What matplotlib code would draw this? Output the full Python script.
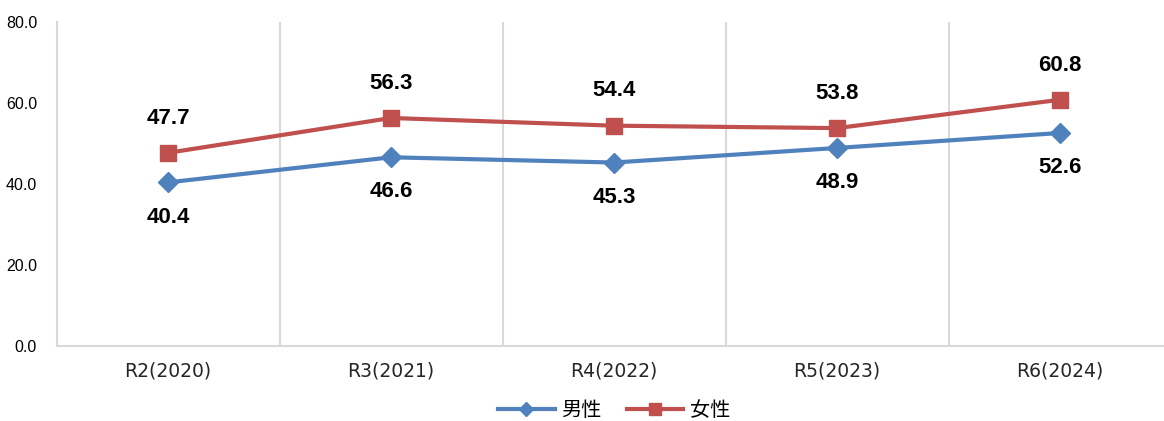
import matplotlib.pyplot as plt
import numpy as np

# Data
years = ['R2(2020)', 'R3(2021)', 'R4(2022)', 'R5(2023)', 'R6(2024)']
male = [40.4, 46.6, 45.3, 48.9, 52.6]
female = [47.7, 56.3, 54.4, 53.8, 60.8]
yticks = [0, 20, 40, 60, 80]

color_male = '#4F81BD'
color_female = '#C0504D'
grid_color = '#D9D9D9'

plt.rcParams['font.family'] = ['Liberation Sans', 'Noto Sans CJK JP', 'DejaVu Sans']

fig = plt.figure(figsize=(11.64, 4.21), dpi=100)
W, H = 1164, 421
ax = fig.add_axes([56.5 / W, 75 / H, 1115 / W, 324 / H])

x = np.arange(len(years))
ax.plot(x, male, color=color_male, linewidth=3, marker='D', markersize=10.5,
        label='男性', zorder=3)
ax.plot(x, female, color=color_female, linewidth=3, marker='s', markersize=12,
        label='女性', zorder=3)

# value labels
for i in range(len(x)):
    ax.annotate(f"{male[i]:.1f}", (x[i], male[i]), xytext=(0, -25), textcoords='offset points',
                ha='center', va='center', fontsize=16, fontweight='bold', color='black')
    ax.annotate(f"{female[i]:.1f}", (x[i], female[i]), xytext=(0, 25), textcoords='offset points',
                ha='center', va='center', fontsize=16, fontweight='bold', color='black')

ax.set_xlim(-0.5, len(years) - 0.5)
ax.set_ylim(0, 80)
ax.set_yticks(yticks)
ax.set_yticklabels([f"{v:.1f}" for v in yticks], fontsize=11.5)
ax.set_xticks(x)
ax.set_xticklabels(years, fontsize=13.5, family=['DejaVu Sans'], color='#262626')

# vertical separators between categories
ax.set_xticks(np.arange(-0.5, len(years) + 0.5, 1), minor=True)
ax.grid(True, which='minor', axis='x', color=grid_color, linewidth=1.5)
ax.tick_params(which='both', length=0)
ax.tick_params(axis='y', pad=14)
ax.tick_params(axis='x', pad=11)

for side in ['top', 'right']:
    ax.spines[side].set_visible(False)
for side in ['left', 'bottom']:
    ax.spines[side].set_color(grid_color)
    ax.spines[side].set_linewidth(1.5)

h1 = plt.Line2D([], [], color=color_male, linewidth=3, marker='D', markersize=7)
h2 = plt.Line2D([], [], color=color_female, linewidth=3, marker='s', markersize=8)
fig.legend([h1, h2], ['男性', '女性'], loc='center', bbox_to_anchor=(614 / W, 1 - 411 / H),
           ncol=2, frameon=False, handlelength=2.8, columnspacing=1.3, handletextpad=0.3,
           prop={'family': ['Noto Sans CJK JP'], 'size': 14.5})

fig.savefig('out.png', dpi=100)
